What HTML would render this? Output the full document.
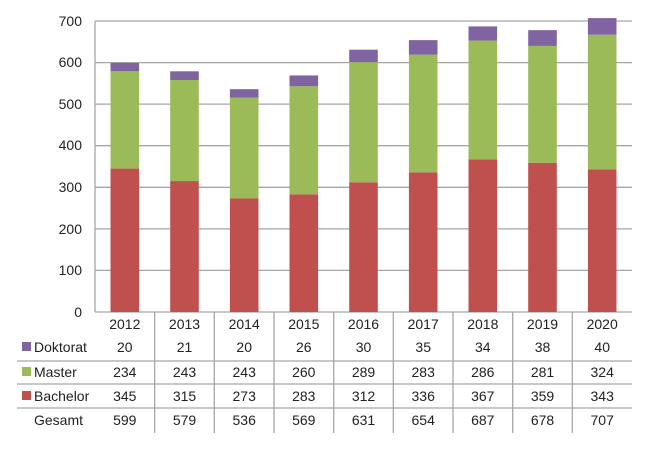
<!DOCTYPE html>
<html><head><meta charset="utf-8"><style>body{margin:0;background:#fff}svg{display:block}text{font-family:"Liberation Sans",sans-serif;font-size:14px;fill:#222}</style></head>
<body>
<svg width="663" height="450" xmlns="http://www.w3.org/2000/svg">
<g stroke="#a6a6a6" stroke-width="1.3">
<line x1="95" y1="21" x2="632" y2="21"/><line x1="95" y1="62.6" x2="632" y2="62.6"/><line x1="95" y1="104.1" x2="632" y2="104.1"/><line x1="95" y1="145.7" x2="632" y2="145.7"/><line x1="95" y1="187.3" x2="632" y2="187.3"/><line x1="95" y1="228.9" x2="632" y2="228.9"/><line x1="95" y1="270.4" x2="632" y2="270.4"/><line x1="95" y1="312" x2="632" y2="312"/>
<line x1="95" y1="21" x2="95" y2="312"/>
<line x1="17" y1="361" x2="632" y2="361"/><line x1="17" y1="384" x2="632" y2="384"/><line x1="17" y1="408" x2="632" y2="408"/>
<line x1="154.7" y1="312" x2="154.7" y2="433"/><line x1="214.3" y1="312" x2="214.3" y2="433"/><line x1="274" y1="312" x2="274" y2="433"/><line x1="333.7" y1="312" x2="333.7" y2="433"/><line x1="393.3" y1="312" x2="393.3" y2="433"/><line x1="453" y1="312" x2="453" y2="433"/><line x1="512.7" y1="312" x2="512.7" y2="433"/><line x1="572.3" y1="312" x2="572.3" y2="433"/>
</g>
<g text-anchor="end">
<text x="82" y="26">700</text><text x="82" y="67">600</text><text x="82" y="109">500</text><text x="82" y="150">400</text><text x="82" y="192">300</text><text x="82" y="234">200</text><text x="82" y="275">100</text><text x="82" y="317">0</text>
</g>
<g fill="#c0504d">
<rect x="110.5" y="168.58" width="28.6" height="143.42"/>
<rect x="170.2" y="181.05" width="28.6" height="130.95"/>
<rect x="229.9" y="198.51" width="28.6" height="113.49"/>
<rect x="289.5" y="194.35" width="28.6" height="117.65"/>
<rect x="349.2" y="182.30" width="28.6" height="129.70"/>
<rect x="408.9" y="172.32" width="28.6" height="139.68"/>
<rect x="468.5" y="159.43" width="28.6" height="152.57"/>
<rect x="528.2" y="162.76" width="28.6" height="149.24"/>
<rect x="587.9" y="169.41" width="28.6" height="142.59"/>
</g>
<g fill="#9bbb59">
<rect x="110.5" y="71.30" width="28.6" height="97.28"/>
<rect x="170.2" y="80.03" width="28.6" height="101.02"/>
<rect x="229.9" y="97.49" width="28.6" height="101.02"/>
<rect x="289.5" y="86.26" width="28.6" height="108.09"/>
<rect x="349.2" y="62.16" width="28.6" height="120.14"/>
<rect x="408.9" y="54.67" width="28.6" height="117.65"/>
<rect x="468.5" y="40.54" width="28.6" height="118.89"/>
<rect x="528.2" y="45.94" width="28.6" height="116.82"/>
<rect x="587.9" y="34.72" width="28.6" height="134.69"/>
</g>
<g fill="#8064a2">
<rect x="110.5" y="62.99" width="28.6" height="8.31"/>
<rect x="170.2" y="71.30" width="28.6" height="8.73"/>
<rect x="229.9" y="89.18" width="28.6" height="8.31"/>
<rect x="289.5" y="75.45" width="28.6" height="10.81"/>
<rect x="349.2" y="49.69" width="28.6" height="12.47"/>
<rect x="408.9" y="40.12" width="28.6" height="14.55"/>
<rect x="468.5" y="26.41" width="28.6" height="14.13"/>
<rect x="528.2" y="30.14" width="28.6" height="15.80"/>
<rect x="587.9" y="18.09" width="28.6" height="16.63"/>
</g>
<g text-anchor="middle">
<text x="124.8" y="329">2012</text><text x="184.5" y="329">2013</text><text x="244.2" y="329">2014</text><text x="303.8" y="329">2015</text><text x="363.5" y="329">2016</text><text x="423.2" y="329">2017</text><text x="482.8" y="329">2018</text><text x="542.5" y="329">2019</text><text x="602.2" y="329">2020</text>
<text x="124.8" y="352">20</text><text x="184.5" y="352">21</text><text x="244.2" y="352">20</text><text x="303.8" y="352">26</text><text x="363.5" y="352">30</text><text x="423.2" y="352">35</text><text x="482.8" y="352">34</text><text x="542.5" y="352">38</text><text x="602.2" y="352">40</text>
<text x="124.8" y="377">234</text><text x="184.5" y="377">243</text><text x="244.2" y="377">243</text><text x="303.8" y="377">260</text><text x="363.5" y="377">289</text><text x="423.2" y="377">283</text><text x="482.8" y="377">286</text><text x="542.5" y="377">281</text><text x="602.2" y="377">324</text>
<text x="124.8" y="401">345</text><text x="184.5" y="401">315</text><text x="244.2" y="401">273</text><text x="303.8" y="401">283</text><text x="363.5" y="401">312</text><text x="423.2" y="401">336</text><text x="482.8" y="401">367</text><text x="542.5" y="401">359</text><text x="602.2" y="401">343</text>
<text x="124.8" y="425">599</text><text x="184.5" y="425">579</text><text x="244.2" y="425">536</text><text x="303.8" y="425">569</text><text x="363.5" y="425">631</text><text x="423.2" y="425">654</text><text x="482.8" y="425">687</text><text x="542.5" y="425">678</text><text x="602.2" y="425">707</text>
</g>
<rect x="22" y="342" width="9" height="9" fill="#8064a2"/><text x="34" y="352">Doktorat</text>
<rect x="22" y="367" width="9" height="9" fill="#9bbb59"/><text x="34" y="377">Master</text>
<rect x="22" y="391" width="9" height="9" fill="#c0504d"/><text x="34" y="401">Bachelor</text>
<text x="34" y="425">Gesamt</text>
</svg>
</body></html>
